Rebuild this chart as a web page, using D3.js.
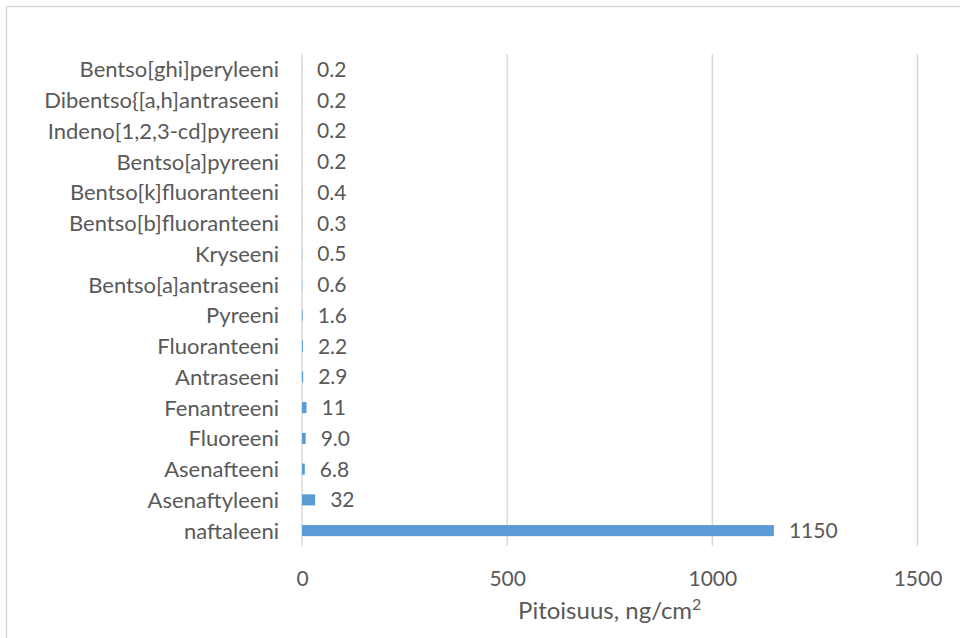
<!DOCTYPE html>
<html>
<head>
<meta charset="utf-8">
<script src="https://cdn.jsdelivr.net/npm/d3@7"></script>
<style>
  body { margin: 0; background: #fff; }
  text { font-family: Lato, "Open Sans", sans-serif; fill: #595959; }
</style>
</head>
<body>
<div id="chart"></div>
<script>
// Categories from bottom to top, as in the chart
const compounds = [
    "naftaleeni", "Asenaftyleeni", "Asenafteeni", "Fluoreeni", "Fenantreeni",
    "Antraseeni", "Fluoranteeni", "Pyreeni", "Bentso[a]antraseeni", "Kryseeni",
    "Bentso[b]fluoranteeni", "Bentso[k]fluoranteeni", "Bentso[a]pyreeni",
    "Indeno[1,2,3-cd]pyreeni", "Dibentso{[a,h]antraseeni", "Bentso[ghi]peryleeni"
];
const concentrations = [1150, 32, 6.8, 9.0, 11, 2.9, 2.2, 1.6, 0.6, 0.5, 0.3, 0.4, 0.2, 0.2, 0.2, 0.2];
const xTicks = [0, 500, 1000, 1500];

const svgWidth = 960, svgHeight = 638;
const margin = { top: 54, right: 42, bottom: 92, left: 302 };
const width = svgWidth - margin.left - margin.right;
const height = svgHeight - margin.top - margin.bottom;

const root = d3.select("#chart").append("svg")
    .attr("width", svgWidth)
    .attr("height", svgHeight);

// Chart border (runs off the right and bottom edges)
root.append("rect")
    .attr("x", 6.5).attr("y", 6.5)
    .attr("width", svgWidth).attr("height", svgHeight)
    .style("fill", "none")
    .style("stroke", "#d9d9d9")
    .style("stroke-width", 1.5);

const svg = root.append("g")
    .attr("transform", `translate(${margin.left},${margin.top})`);

const data = compounds.map((c, i) => ({ name: c, value: concentrations[i] }));

const xScale = d3.scaleLinear().domain([0, 1500]).range([0, 615.5]);
const yScale = d3.scaleBand()
    .domain(compounds.slice().reverse())
    .range([0, height])
    .paddingInner(0.64)
    .paddingOuter(0.32);

// Gridlines
svg.selectAll(".grid")
    .data(xTicks)
    .enter()
    .append("line")
    .attr("class", "grid")
    .attr("x1", d => xScale(d)).attr("x2", d => xScale(d))
    .attr("y1", 0).attr("y2", height)
    .style("stroke", "#d9d9d9")
    .style("stroke-width", 1.5);

// Bars
svg.selectAll(".bar")
    .data(data)
    .enter()
    .append("rect")
    .attr("class", "bar")
    .attr("x", xScale(0))
    .attr("y", d => yScale(d.name))
    .attr("width", d => xScale(d.value) - xScale(0))
    .attr("height", yScale.bandwidth())
    .style("fill", "#5b9bd5");

// Value labels
const fmt = d => d < 10 ? d.toFixed(1) : d3.format("d")(d);
svg.selectAll(".value")
    .data(data)
    .enter()
    .append("text")
    .attr("class", "value")
    .attr("x", d => xScale(d.value) + 15)
    .attr("y", d => yScale(d.name) + yScale.bandwidth() / 2)
    .attr("dy", "0.36em")
    .style("font-size", "21px")
    .text(d => fmt(d.value));

// Category labels
const yAxis = d3.axisLeft(yScale).tickSize(0).tickPadding(23);
const yg = svg.append("g").call(yAxis);
yg.select(".domain").remove();
yg.selectAll("text")
    .style("font-size", "22px")
    .style("font-family", "Lato, 'Open Sans', sans-serif")
    .attr("dy", "0.36em")
    .attr("fill", "#595959");

// X axis labels
const xAxis = d3.axisBottom(xScale).tickValues(xTicks).tickFormat(d3.format("d"))
    .tickSize(0).tickPadding(25);
const xg = svg.append("g")
    .attr("transform", `translate(0,${height})`)
    .call(xAxis);
xg.select(".domain").remove();
xg.selectAll("text")
    .style("font-size", "21px")
    .style("font-family", "Lato, 'Open Sans', sans-serif")
    .attr("fill", "#595959");

// Axis title
const title = svg.append("text")
    .attr("x", xScale(750))
    .attr("y", height + 73)
    .style("text-anchor", "middle")
    .style("font-size", "24px");
title.append("tspan").text("Pitoisuus, ng/cm");
title.append("tspan")
    .attr("dy", -9)
    .style("font-size", "16px")
    .text("2");
</script>
</body>
</html>
